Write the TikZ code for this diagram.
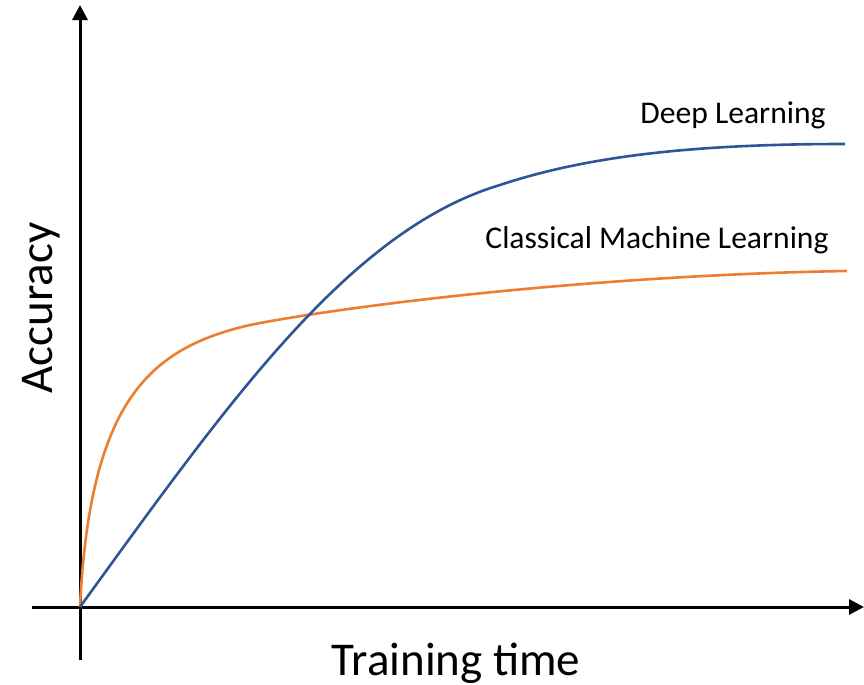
\documentclass[tikz,border=0pt]{standalone}
\usepackage{fontspec}
\setmainfont{Carlito}
\usetikzlibrary{arrows.meta}
\definecolor{dlblue}{RGB}{47, 85, 151}
\definecolor{mlorange}{RGB}{237, 125, 49}

\begin{document}
\begin{tikzpicture}[
  x=0.5pt, y=-0.5pt,
  axis/.style={line width=1.5pt, -{Triangle[length=7.5pt, width=7.5pt]}},
  curve/.style={line width=1.3pt},
  lbl/.style={anchor=base, inner sep=0pt, font=\fontsize{15.8}{18}\selectfont},
  axlbl/.style={anchor=base, inner sep=0pt, font=\fontsize{23.5}{28}\selectfont}
]
  \useasboundingbox (0,0) rectangle (864,685);
  % axes
  \coordinate (origin) at (80,607);
  \coordinate (xstart) at (32,607);
  \coordinate (xend) at (864,607);
  \coordinate (ystart) at (80,660);
  \coordinate (yend) at (80,5);
  \draw[axis] (xstart) -- (xend);
  \draw[axis] (ystart) -- (yend);
  \node[axlbl] (xlabel) at (456,675) {Training time};
  \node[axlbl, rotate=90] (ylabel) at (53,308) {Accuracy};
  % curves
  \coordinate (mlknee) at (250,325);
  \coordinate (mlend) at (847,271);
  \coordinate (dlknee) at (500,185);
  \coordinate (dlend) at (845,144);
  \draw[curve, mlorange] (origin) .. controls (90,400) and (150,348) .. (mlknee)
    .. controls (350,305) and (600,275) .. (mlend);
  \draw[curve, dlblue] (origin) .. controls (230,400) and (350,230) .. (dlknee)
    .. controls (590,155) and (700,144) .. (dlend);
  \node[lbl] (deep) at (733,123) {Deep Learning};
  \node[lbl] (classic) at (657,248) {Classical Machine Learning};
\end{tikzpicture}
\end{document}
